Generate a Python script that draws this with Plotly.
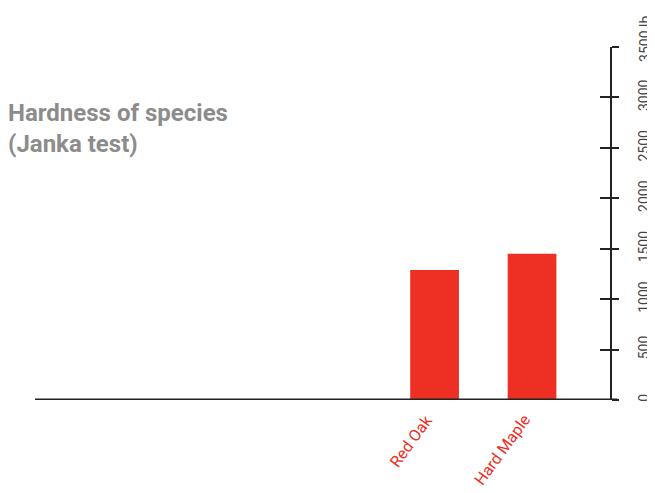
import plotly.graph_objects as go

species = ["Red Oak", "Hard Maple"]
hardness = [1290, 1450]
tick_vals = [0, 500, 1000, 1500, 2000, 2500, 3000, 3500]
tick_text = ["0", "500", "1000", "1500", "2000", "2500", "3000", ""]
top_label = "3500 lb."

RED = "#ee2f24"
DARK = "#222222"
FONT = "Roboto, Liberation Sans, sans-serif"

fig = go.Figure()
fig.add_trace(go.Bar(x=species, y=hardness, marker_color=RED, width=0.5,
                     marker_line_width=0, hoverinfo="skip"))
fig.add_trace(go.Scatter(x=[None], y=[None], yaxis="y2", showlegend=False))

# page body has an 8px margin, so the figure is 8px smaller than the window
fig.update_layout(
    width=647, height=485,
    margin=dict(l=27, r=45, t=39, b=93),
    plot_bgcolor="white", paper_bgcolor="white",
    showlegend=False,
    font=dict(family=FONT),
    xaxis=dict(type="category", range=[-4.1, 1.8], showgrid=False, zeroline=False,
               showline=False, ticks="", showticklabels=False, automargin=False),
    yaxis=dict(side="right", range=[0, 3500], showgrid=False, zeroline=False,
               showline=True, linecolor=DARK, linewidth=2, automargin=False,
               tickvals=tick_vals, ticktext=tick_text, ticks="outside",
               ticklen=7, tickwidth=2, tickcolor=DARK,
               tickangle=-90, tickfont=dict(color="#444", size=14, family=FONT),
               ticklabelstandoff=13),
    yaxis2=dict(side="right", overlaying="y", range=[0, 3500], showgrid=False,
                zeroline=False, showline=False, tickvals=tick_vals[1:],
                showticklabels=False, ticks="inside", ticklen=10, tickwidth=2,
                tickcolor=DARK, automargin=False),
)

# baseline (extends a little past the right axis)
fig.add_shape(type="line", xref="paper", yref="y", x0=0, x1=1.013, y0=0, y1=0,
              line=dict(color=DARK, width=3), layer="above")

# category labels
for name in species:
    fig.add_annotation(text=name, x=name, y=0, xref="x", yref="y",
                       xanchor="right", yanchor="top", yshift=-8, xshift=5,
                       textangle=-54, showarrow=False,
                       font=dict(size=16, color=RED, family=FONT))

fig.add_annotation(text="<b>Hardness of species<br>(Janka test)</b>",
                   xref="paper", yref="paper", x=-0.05, y=0.858,
                   xanchor="left", yanchor="top", align="left", showarrow=False,
                   font=dict(size=24, color="#8c8c8c", family=FONT))
fig.add_annotation(text=top_label, xref="paper", yref="paper", x=1.0, y=1.105,
                   xanchor="center", yanchor="top", xshift=35,
                   textangle=-90, showarrow=False,
                   font=dict(size=14, color="#444", family=FONT))

fig.write_html("out.html")
